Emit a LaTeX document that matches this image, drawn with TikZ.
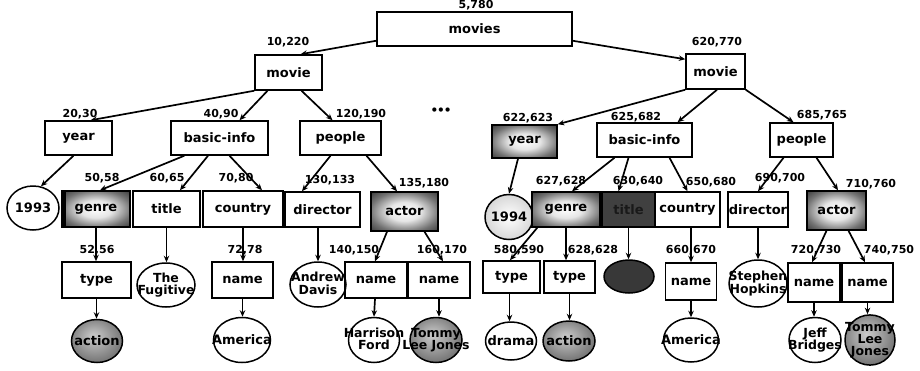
\documentclass[tikz,border=0pt]{standalone}
\usepackage{fontspec}
\setmainfont{DejaVu Sans}
\usetikzlibrary{arrows.meta,shapes.geometric,calc}
\pgfdeclareradialshading{darkbox}{\pgfpoint{0bp}{0bp}}{color(0bp)=(white); color(12bp)=(white!90!black); color(26bp)=(black!55); color(38bp)=(black!82); color(50bp)=(black!95)}
\pgfdeclareradialshading{ballsh}{\pgfpoint{-4bp}{6bp}}{color(0bp)=(white!80!black); color(12bp)=(black!35); color(32bp)=(black!60); color(50bp)=(black!90)}
\pgfdeclareradialshading{ringsh}{\pgfpoint{0bp}{0bp}}{color(0bp)=(white); color(24bp)=(white!85!black); color(40bp)=(black!60); color(50bp)=(black!85)}
\newcommand{\ml}[1]{\makebox[0pt]{\begin{tabular}{@{}c@{}}#1\end{tabular}}}
\begin{document}
\begin{tikzpicture}[x=1pt,y=-1pt,
  box/.style={draw, line width=1.5pt, rectangle, inner sep=0pt, font=\bfseries\fontsize{13}{13}\selectfont},
  dbox/.style={box, shading=darkbox},
  ell/.style={draw, ellipse, line width=1.5pt, inner sep=0pt, font=\bfseries\fontsize{13}{13}\selectfont},
  mell/.style={ell, font=\bfseries\fontsize{12.5}{11}\selectfont},
  ball/.style={shading=ballsh},
  lbl/.style={inner sep=0pt, font=\bfseries\fontsize{11}{11}\selectfont},
  edge/.style={line width=1.7pt, -{Stealth[length=6.5pt,width=5.5pt]}}]
\useasboundingbox (0,0) rectangle (920,370);
\renewcommand{\arraystretch}{0.82}
% level 0-1
\node[box, minimum width=195pt, minimum height=34pt] (movies) at (474.5,29) {movies};
\node[box, minimum width=67pt, minimum height=35pt] (movieL) at (288.5,72.5) {movie};
\node[box, minimum width=59pt, minimum height=35pt] (movieR) at (715.5,71.5) {movie};
% level 2
\node[box, minimum width=67pt, minimum height=34pt] (yearL) at (78.5,138) {year};
\node[box, minimum width=97pt, minimum height=34pt] (basicL) at (219.5,138) {basic-info};
\node[box, minimum width=81pt, minimum height=34pt] (peopleL) at (340.5,138) {people};
\node[dbox, minimum width=65pt, minimum height=33pt] (yearR) at (524.5,141.5) {year};
\node[box, minimum width=95pt, minimum height=34pt] (basicR) at (644.5,140) {basic-info};
\node[box, minimum width=63pt, minimum height=34pt] (peopleR) at (801.5,140) {people};
% level 3
\node[ell, minimum width=52pt, minimum height=44pt] (c1993) at (33,208) {\makebox[0pt]{1993}};
\node[dbox, minimum width=68pt, minimum height=36pt] (genreL) at (96,209) {genre};
\fill[black] (genreL.north west) rectangle ($(genreL.south west)+(5,0)$);
\node[box, minimum width=67pt, minimum height=36pt] (titleL) at (166.5,209) {title};
\node[box, minimum width=80pt, minimum height=36pt] (countryL) at (243,209) {country};
\node[box, minimum width=75pt, minimum height=35pt] (directorL) at (322.5,209.5) {director};
\node[dbox, minimum width=67pt, minimum height=39pt] (actorL) at (404.5,211.5) {actor};
\node[ell, shading=ringsh, minimum width=48pt, minimum height=45pt] (c1994) at (509,217) {\makebox[0pt]{1994}};
\node[dbox, minimum width=68pt, minimum height=35pt] (genreR) at (566,209.5) {genre};
\node[box, fill=black!75, text=black!90, minimum width=53pt, minimum height=35pt] (titleR) at (628.5,209.5) {title};
\node[box, minimum width=65pt, minimum height=35pt] (countryR) at (687.5,209.5) {country};
\node[box, minimum width=60pt, minimum height=35pt] (directorR) at (758,209.5) {director};
\node[dbox, minimum width=59pt, minimum height=39pt] (actorR) at (836.5,210.5) {actor};
% level 4
\node[box, minimum width=69pt, minimum height=36pt] (typeL) at (96.5,280) {type};
\node[mell, minimum width=58pt, minimum height=44pt] (fugitive) at (166,285) {\ml{The\\Fugitive}};
\node[box, minimum width=61pt, minimum height=36pt] (nameLa) at (242.5,280) {name};
\node[mell, minimum width=56pt, minimum height=45pt] (davis) at (318,284.5) {\ml{Andrew\\Davis}};
\node[box, minimum width=62pt, minimum height=36pt] (nameLb) at (376,280) {name};
\node[box, minimum width=62pt, minimum height=36pt] (nameLc) at (439,280) {name};
\node[box, minimum width=57pt, minimum height=32pt] (typeRa) at (511.5,277) {type};
\node[box, minimum width=51pt, minimum height=32pt] (typeRb) at (569.5,277) {type};
\node[ell, fill=black!78, minimum width=50pt, minimum height=33pt] (darkc) at (629,276.5) {};
\node[box, minimum width=51pt, minimum height=37pt] (nameRa) at (691,281.5) {name};
\node[mell, minimum width=58pt, minimum height=47pt] (hopkins) at (758,283.5) {\ml{Stephen\\Hopkins}};
\node[box, minimum width=52pt, minimum height=39pt] (nameRb) at (814,282.5) {name};
\node[box, minimum width=51pt, minimum height=39pt] (nameRc) at (867.5,282.5) {name};
% level 5
\node[ell, ball, minimum width=51pt, minimum height=43pt] (actionL) at (97,341) {\makebox[0pt]{action}};
\node[ell, minimum width=57pt, minimum height=45pt] (americaL) at (242,340) {\makebox[0pt]{America}};
\node[mell, minimum width=51pt, minimum height=45pt] (harrison) at (374,340) {\ml{Harrison\\Ford}};
\node[mell, ball, minimum width=52pt, minimum height=45pt] (tommyL) at (436,340) {\ml{Tommy\\Lee Jones}};
\node[ell, minimum width=51pt, minimum height=38pt] (drama) at (511,341) {\makebox[0pt]{drama}};
\node[ell, ball, minimum width=52pt, minimum height=40pt] (actionR) at (569,341) {\makebox[0pt]{action}};
\node[ell, minimum width=55pt, minimum height=44pt] (americaR) at (691,340) {\makebox[0pt]{America}};
\node[mell, minimum width=52pt, minimum height=45pt] (jeff) at (815,340) {\ml{Jeff\\Bridges}};
\node[mell, ball, minimum width=50pt, minimum height=45pt] (tommyR) at (870,340) {\ml{Tommy\\Lee\\Jones}};
% labels
\node[lbl] (l5780) at (476,5.5) {5,780};
\node[lbl] (l10220) at (288,42) {10,220};
\node[lbl] (l620770) at (717,42) {620,770};
\node[lbl] (l2030) at (80,114) {20,30};
\node[lbl] (l4090) at (221,114) {40,90};
\node[lbl] (l120190) at (361,114) {120,190};
\node[lbl, font=\bfseries\fontsize{12}{12}\selectfont] (dots) at (441,111) {\textbullet\kern-1pt\textbullet\kern-1pt\textbullet};
\node[lbl] (l622623) at (528,118) {622,623};
\node[lbl] (l625682) at (636,117) {625,682};
\node[lbl] (l685765) at (822,115) {685,765};
\node[lbl] (l5058) at (102,178) {50,58};
\node[lbl] (l6065) at (167,178) {60,65};
\node[lbl] (l7080) at (236,178) {70,80};
\node[lbl] (l130133) at (330,180) {130,133};
\node[lbl] (l135180) at (424,183) {135,180};
\node[lbl] (l627628) at (561,181) {627,628};
\node[lbl] (l630640) at (638,181) {630,640};
\node[lbl] (l650680) at (711,182) {650,680};
\node[lbl] (l690700) at (780,178) {690,700};
\node[lbl] (l710760) at (871,184) {710,760};
\node[lbl] (l5256) at (97,250) {52,56};
\node[lbl] (l7278) at (245,250) {72,78};
\node[lbl] (l140150) at (354,250) {140,150};
\node[lbl] (l160170) at (442,250) {160,170};
\node[lbl] (l580590) at (519,250) {580,590};
\node[lbl] (l628628) at (593,250) {628,628};
\node[lbl] (l660670) at (691,250) {660,670};
\node[lbl] (l720730) at (816,250) {720,730};
\node[lbl] (l740750) at (889,250) {740,750};
% edges
\draw[edge] ($(movies.south west)+(0,-6)$) -- ($(movieL.north)+(12,0)$);
\draw[edge] ($(movies.south east)+(0,-6)$) -- ($(movieR.north west)+(0,6)$);
\draw[edge] (movieL.south west) -- ($(yearL.north)+(12,0)$);
\draw[edge] ($(movieL.south)+(-21,0)$) -- ($(basicL.north)+(20,0)$);
\draw[edge] ($(movieL.south)+(13,0)$) -- ($(peopleL.north)+(-8,0)$);
\draw[edge] (movieR.south west) -- (yearR.north east);
\draw[edge] ($(movieR.south)+(1.5,0)$) -- ($(basicR.north)+(33,0)$);
\draw[edge] (movieR.south east) -- ($(peopleR.north)+(-8,0)$);
\draw[edge] ($(yearL.south)+(-5,0)$) -- (c1993.70);
\draw[edge] ($(basicL.south west)+(14,0)$) -- ($(genreL.north)+(4,0)$);
\draw[edge] ($(basicL.south)+(-11.5,0)$) -- ($(titleL.north)+(13.5,0)$);
\draw[edge] ($(basicL.south)+(10,0)$) -- ($(countryL.north)+(19,0)$);
\draw[edge] ($(peopleL.south)+(-10,0)$) -- ($(directorL.north)+(-20.5,0)$);
\draw[edge] ($(peopleL.south)+(26,0)$) -- ($(actorL.north)+(-7.5,0)$);
\draw[edge] ($(yearR.south)+(-6.5,0)$) -- (c1994.north);
\draw[edge] ($(basicR.south)+(-30,0)$) -- ($(genreR.north)+(6,0)$);
\draw[edge] ($(basicR.south)+(-16,0)$) -- ($(titleR.north)+(-10,0)$);
\draw[edge] ($(basicR.south)+(25,0)$) -- (countryR.north);
\draw[edge] ($(peopleR.south)+(-18,0)$) -- (directorR.north);
\draw[edge] ($(peopleR.south)+(15,0)$) -- ($(actorR.north)+(1.5,0)$);
\draw[edge] (genreL.south) -- (genreL.south |- typeL.north);
\draw[edge] (titleL.south) -- (titleL.south |- fugitive.north);
\draw[edge] (countryL.south) -- (countryL.south |- nameLa.north);
\draw[edge] ($(directorL.south)+(-4.5,0)$) -- (davis.north);
\draw[edge] ($(actorL.south)+(-17.5,0)$) -- ($(nameLb.north)+(-1,0)$);
\draw[edge] ($(actorL.south)+(20,0)$) -- ($(nameLc.north)+(4,0)$);
\draw[edge] ($(genreR.south west)+(6,0)$) -- ($(typeRa.north)+(-1.5,0)$);
\draw[edge] (genreR.south) -- (genreR.south |- typeRb.north);
\draw[edge] (titleR.south) -- (titleR.south |- darkc.north);
\draw[edge] (nameRa.north |- countryR.south) -- (nameRa.north);
\draw[edge] (directorR.south) -- (directorR.south |- hopkins.north);
\draw[edge] ($(actorR.south)+(-10,0)$) -- ($(nameRb.north)+(-2,0)$);
\draw[edge] ($(actorR.south)+(12,0)$) -- ($(nameRc.north)+(-2.5,0)$);
\draw[edge] (typeL.south) -- (typeL.south |- actionL.north);
\draw[edge] (nameLa.south) -- (nameLa.south |- americaL.north);
\draw[edge] ($(nameLb.south)+(-1,0)$) -- (harrison.north);
\draw[edge] (nameLc.south) -- (nameLc.south |- tommyL.north);
\draw[edge] ($(typeRa.south)+(-2,0)$) -- ($(drama.north)+(-1.5,0)$);
\draw[edge] (typeRb.south) -- (typeRb.south |- actionR.north);
\draw[edge] (nameRa.south) -- (americaR.north);
\draw[edge] (nameRb.south) -- (nameRb.south |- jeff.north);
\draw[edge] (nameRc.south) -- (nameRc.south |- tommyR.north);
\end{tikzpicture}
\end{document}
